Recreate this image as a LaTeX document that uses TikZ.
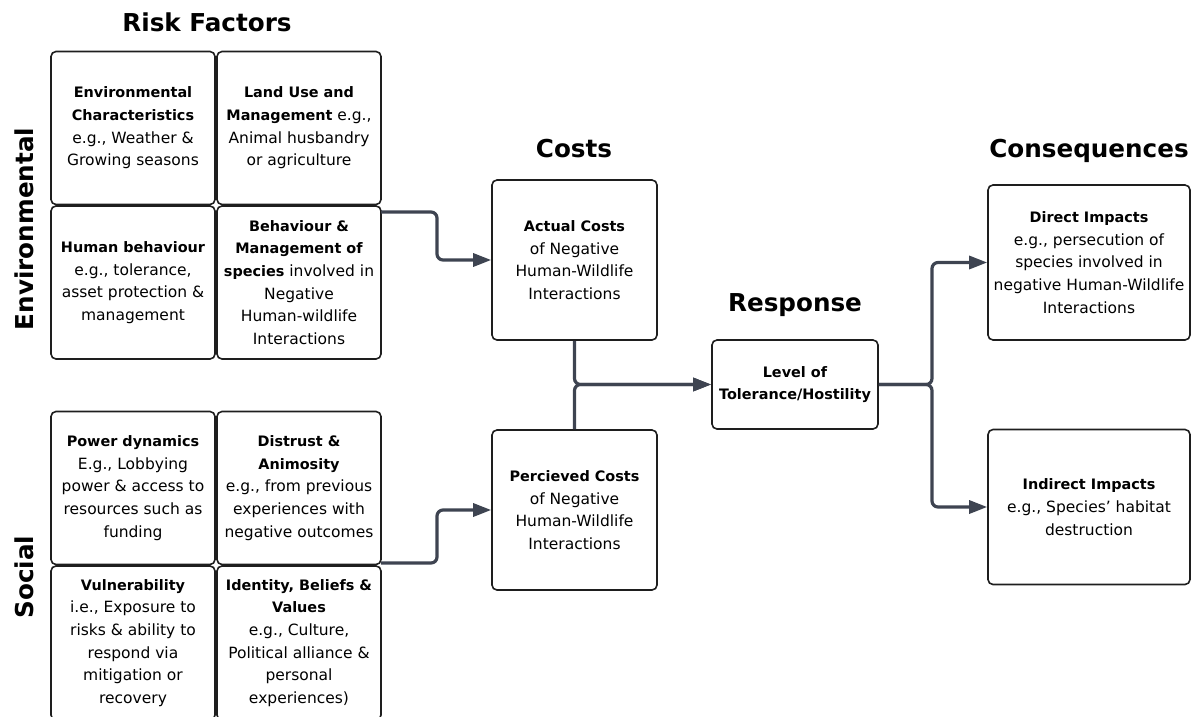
\documentclass[tikz,border=0pt]{standalone}
\usepackage{fontspec}
\setmainfont{DejaVu Sans}[BoldFeatures={Scale=0.93}]
\usetikzlibrary{arrows.meta}

\definecolor{linkgray}{HTML}{3E4451}
\definecolor{boxline}{HTML}{1E1E1E}
\newcommand{\cellfont}{\fontsize{15.5}{22.7}\selectfont}
\newcommand{\headfont}{\fontsize{26.5}{30}\selectfont\bfseries}

\tikzset{every picture/.style={line width=0.75pt}}
\tikzset{
	cellbox/.style={draw=boxline, line width=1.6, rounded corners=5, align=center, inner sep=0, font=\cellfont},
	factor/.style={cellbox, minimum width=164, minimum height=153},
	costbox/.style={cellbox, minimum width=165, minimum height=160},
	impactbox/.style={cellbox, minimum width=202, minimum height=155},
	heading/.style={font=\headfont, inner sep=0, anchor=base},
	link/.style={draw=linkgray, line width=3.2, rounded corners=6, -{Triangle[length=18, width=13]}},
}

\begin{document}
\begin{tikzpicture}[x=1pt,y=1pt,yscale=-1]
	\useasboundingbox (0,0) rectangle (1200,716);

	% Headings
	\node [heading] (hrisk) at (207,31) {Risk Factors};
	\node [heading] (hcost) at (574,157) {Costs};
	\node [heading] (hresp) at (795,311) {Response};
	\node [heading] (hcons) at (1089,157) {Consequences};
	\node [heading, rotate=90] (henv) at (33,229) {Environmental};
	\node [heading, rotate=90] (hsoc) at (33,577) {Social};

	% Environmental factors
	\node [factor] (envchar) at (133,128) {\textbf{Environmental}\\\textbf{Characteristics}\\e.g., Weather \&\\Growing seasons};
	\node [factor] (landuse) at (299,128) {\textbf{Land Use and}\\\textbf{Management} e.g.,\\Animal husbandry\\or agriculture};
	\node [factor] (humbeh) at (133,282.5) {\textbf{Human behaviour}\\e.g., tolerance,\\asset protection \&\\management};
	\node [factor] (spcbeh) at (299,282.5) {\textbf{Behaviour \&}\\\textbf{Management of}\\\textbf{species} involved in\\Negative\\Human-wildlife\\Interactions};

	% Social factors
	\node [factor] (power) at (133,488) {\textbf{Power dynamics}\\E.g., Lobbying\\power \& access to\\resources such as\\funding};
	\node [factor] (distrust) at (299,488) {\textbf{Distrust \&}\\\textbf{Animosity}\\e.g., from previous\\experiences with\\negative outcomes};
	\node [factor, minimum height=154] (vulner) at (133,643) {\textbf{Vulnerability}\\i.e., Exposure to\\risks \& ability to\\respond via\\mitigation or\\recovery};
	\node [factor, minimum height=154] (identity) at (299,643) {\textbf{Identity, Beliefs \&}\\\textbf{Values}\\e.g., Culture,\\Political alliance \&\\personal\\experiences)};

	% Costs
	\node [costbox] (actual) at (574.5,260) {\textbf{Actual Costs}\\of Negative\\Human-Wildlife\\Interactions};
	\node [costbox] (perceived) at (574.5,510) {\textbf{Percieved Costs}\\of Negative\\Human-Wildlife\\Interactions};

	% Response
	\node [cellbox, minimum width=166, minimum height=89] (level) at (795,384.5) {\textbf{Level of}\\\textbf{Tolerance/Hostility}};

	% Consequences
	\node [impactbox] (direct) at (1089,262.5) {\textbf{Direct Impacts}\\e.g., persecution of\\species involved in\\negative Human-Wildlife\\Interactions};
	\node [impactbox] (indirect) at (1089,507) {\textbf{Indirect Impacts}\\e.g., Species' habitat\\destruction};

	% Connections
	\coordinate (envout) at (381,212);
	\coordinate (socout) at (381,563);
	\draw [link] (envout) -- (437,212) |- (actual.west);
	\draw [link] (socout) -- (437,563) |- (perceived.west);
	\draw [link] (actual.south) |- (level.west);
	\draw [link] (perceived.north) |- (level.west);
	\draw [link] (level.east) -- (932,384.5) |- (direct.west);
	\draw [link] (level.east) -- (932,384.5) |- (indirect.west);

\end{tikzpicture}
\end{document}
